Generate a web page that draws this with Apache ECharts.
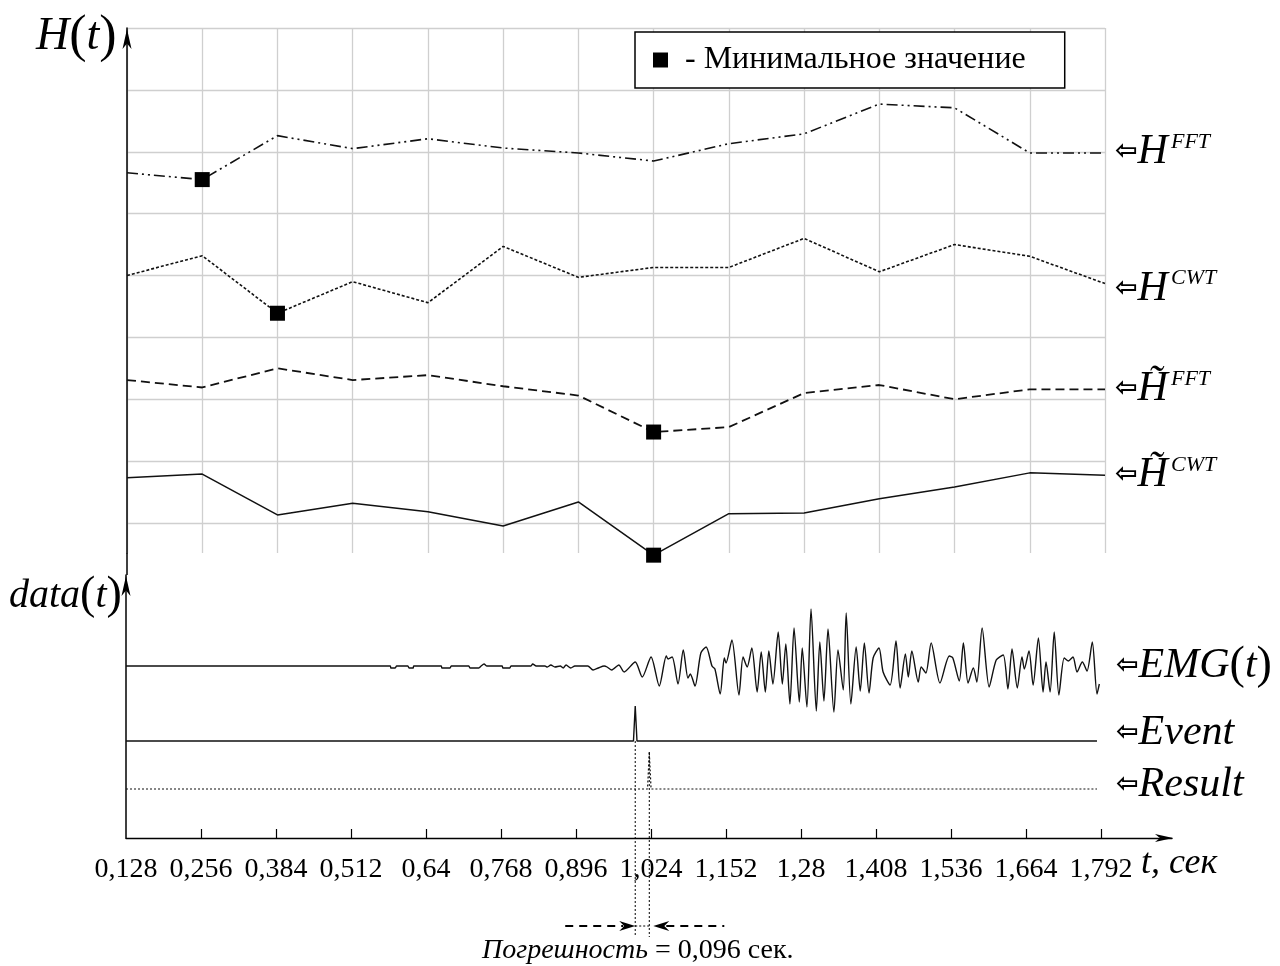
<!DOCTYPE html>
<html><head><meta charset="utf-8">
<script src="https://cdn.jsdelivr.net/npm/echarts@6/dist/echarts.min.js"></script>
<style>html,body{margin:0;padding:0;background:#fff}#c{width:1280px;height:966px}</style>
</head><body><div id="c"></div>
<script>
// ---------- DATA ----------
const T = [0.128,0.256,0.384,0.512,0.64,0.768,0.896,1.024,1.152,1.28,1.408,1.536,1.664,1.792];
const tickLabels = ['0,128','0,256','0,384','0,512','0,64','0,768','0,896','1,024','1,152','1,28','1,408','1,536','1,664','1,792'];
const H_FFT  = [5.66,5.55,6.26,6.05,6.21,6.06,5.98,5.85,6.13,6.29,6.77,6.71,5.98,5.98];
const H_CWT  = [4.00,4.32,3.39,3.90,3.56,4.47,3.97,4.13,4.13,4.60,4.06,4.50,4.31,3.87];
const HT_FFT = [2.31,2.19,2.50,2.31,2.39,2.21,2.06,1.47,1.55,2.10,2.23,2.00,2.16,2.16];
const HT_CWT = [0.73,0.79,0.13,0.32,0.18,-0.05,0.34,-0.52,0.15,0.16,0.39,0.58,0.81,0.77];
const EMG = [
 [0.128,172],[0.579,172],[0.580,170],[0.587,170],[0.590,172],[0.609,172],[0.611,170],[0.618,170],[0.619,172],
 [0.666,172],[0.667,170],[0.681,170],[0.683,172],[0.713,172],[0.715,170],[0.730,170],[0.734,172],[0.739,174],
 [0.744,172],[0.770,172],[0.771,170],[0.783,170],[0.785,172],[0.819,172],[0.822,174],[0.828,172],[0.843,172],
 [0.847,171],[0.853,173],[0.860,171],[0.869,172],[0.874,170],[0.879,173],[0.887,170],[0.894,172],
 [0.903,172],[0.916,172],[0.925,168],[0.934,170],[0.944,172],[0.949,171],[0.957,168],[0.969,173],[0.978,166],
 [0.997,176],[1.009,161],[1.024,181],[1.038,152],[1.050,182],[1.053,179],[1.060,181],[1.070,154],[1.079,188],
 [1.087,160],[1.091,164],[1.099,152],[1.109,185],[1.118,191],[1.128,172],[1.133,169],[1.142,144],[1.149,180],
 [1.152,175],[1.162,198],[1.174,143],[1.181,181],[1.188,171],[1.196,190],[1.205,146],[1.212,186],[1.219,146],
 [1.225,187],[1.232,154],[1.241,206],[1.248,154],[1.254,194],[1.261,134],[1.268,210],[1.277,136],[1.282,190],
 [1.290,131],[1.297,229],[1.306,127],[1.312,196],[1.319,137],[1.326,209],[1.336,126],[1.343,188],[1.352,148],
 [1.357,225],[1.365,134],[1.374,191],[1.381,147],[1.388,195],[1.396,145],[1.403,180],[1.413,190],[1.420,166],
 [1.432,153],[1.442,197],[1.449,150],[1.458,184],[1.463,161],[1.469,187],[1.480,156],[1.485,171],[1.493,165],
 [1.502,195],[1.517,155],[1.533,182],[1.539,180],[1.550,157],[1.557,195],[1.565,155],[1.574,170],[1.580,156],
 [1.589,210],[1.601,151],[1.613,178],[1.625,183],[1.633,149],[1.640,189],[1.649,150],[1.657,181],[1.661,169],
 [1.669,187],[1.676,153],[1.685,200],[1.693,146],[1.698,176],[1.705,146],[1.712,206],[1.720,143],[1.729,180],
 [1.736,177],[1.744,181],[1.751,166],[1.760,176],[1.768,167],[1.777,196],[1.785,144],[1.789,154]
];
const EVENT  = [[0.128,97],[0.994,97],[0.997,132],[1.000,97],[1.785,97]];
const RESULT = [[0.128,49],[1.018,49],[1.021,86],[1.024,49],[1.785,49]];
const EMG_BASE = 172;
const LEGEND_NAME = '- Минимальное значение';
const ERROR_TEXT_I = 'Погрешность';
const ERROR_TEXT_R = ' = 0,096 сек.';

// ---------- CHART ----------
const SERIF = 'Liberation Serif';
const GRID_C = '#cfcfcf';
const ARROW = 'path://M5,0 L10,22 L5,16 L0,22 Z';
const chart = echarts.init(document.getElementById('c'));

function minPoint(arr){ let k=0; arr.forEach((v,i)=>{ if(v<arr[k]) k=i; }); return [T[k], arr[k]]; }
const pairs = arr => T.map((t,i)=>[t, arr[i]]);
const ink = '#111';

const option = {
  animation:false,
  backgroundColor:'#fff',
  grid:[
    {left:127, right:175, top:28, bottom:413},
    {left:127, right:175, top:28, bottom:443},
    {left:126, right:108, top:575, bottom:128}
  ],
  xAxis:[
    {gridIndex:0, type:'value', min:T[0], max:T[T.length-1], interval:0.128,
     axisLine:{show:false}, axisTick:{show:false}, axisLabel:{show:false},
     splitLine:{show:true, lineStyle:{color:GRID_C, width:1.3}}},
    {gridIndex:1, type:'value', min:T[0], max:T[T.length-1], show:false},
    {gridIndex:2, type:'value', min:T[0], max:1.913,
     axisLine:{show:true, onZero:false, symbol:['none', ARROW], symbolSize:[9,18], symbolOffset:[0,-8], lineStyle:{color:'#000', width:1.4}},
     axisTick:{show:true, inside:true, length:9, customValues:T.slice(1), lineStyle:{color:'#000', width:1.2}},
     axisLabel:{show:true, customValues:T, margin:18, fontFamily:SERIF, fontSize:28, color:'#000',
       formatter:v=>{ const i=T.findIndex(t=>Math.abs(t-v)<1e-6); return i>=0?tickLabels[i]:''; }},
     splitLine:{show:false}}
  ],
  yAxis:[
    {gridIndex:0, type:'value', min:-0.485, max:8,
     axisLine:{show:true, onZero:false, symbol:['none', ARROW], symbolSize:[9,24], symbolOffset:[0,-11], lineStyle:{color:'#000', width:1.5}},
     axisTick:{show:false}, axisLabel:{show:false}, splitLine:{show:false}},
    {gridIndex:1, type:'value', min:0, max:8, interval:1,
     axisLine:{show:false}, axisTick:{show:false}, axisLabel:{show:false},
     splitLine:{show:true, lineStyle:{color:GRID_C, width:1.3}}},
    {gridIndex:2, type:'value', min:0, max:263,
     axisLine:{show:true, onZero:false, symbol:['none', ARROW], symbolSize:[9,24], symbolOffset:[0,-11], lineStyle:{color:'#000', width:1.5}},
     axisTick:{show:false}, axisLabel:{show:false}, splitLine:{show:false}}
  ],
  legend:{
    data:[LEGEND_NAME], left:635, top:32, padding:[12,39,12,18],
    itemWidth:15, itemHeight:15, icon:'rect', selectedMode:false,
    borderColor:'#000', borderWidth:1.5, backgroundColor:'#fff', z:10,
    itemStyle:{color:'#000', opacity:1},
    textStyle:{fontFamily:SERIF, fontSize:32, color:'#000', padding:[0,0,0,12]}
  },
  series:[
    {name:'H_FFT', type:'line', xAxisIndex:0, yAxisIndex:0, data:pairs(H_FFT), symbol:'none', silent:true,
     lineStyle:{color:ink, width:1.6, type:[11,4,2,4,2,4]}},
    {name:'H_CWT', type:'line', xAxisIndex:0, yAxisIndex:0, data:pairs(H_CWT), symbol:'none', silent:true,
     lineStyle:{color:ink, width:1.6, type:[3,2]}},
    {name:'HT_FFT', type:'line', xAxisIndex:0, yAxisIndex:0, data:pairs(HT_FFT), symbol:'none', silent:true,
     lineStyle:{color:ink, width:1.8, type:[9,5]}},
    {name:'HT_CWT', type:'line', xAxisIndex:0, yAxisIndex:0, data:pairs(HT_CWT), symbol:'none', silent:true, clip:false,
     lineStyle:{color:ink, width:1.5}},
    {name:LEGEND_NAME, type:'scatter', xAxisIndex:0, yAxisIndex:0, symbol:'rect', symbolSize:15, clip:false, z:5,
     itemStyle:{color:'#000', opacity:1},
     data:[minPoint(H_FFT), minPoint(H_CWT), minPoint(HT_FFT), minPoint(HT_CWT)]},
    {name:'EMG', type:'line', xAxisIndex:2, yAxisIndex:2, data:EMG, symbol:'none', silent:true, smooth:0.25,
     lineStyle:{color:ink, width:1.4}},
    {name:'Event', type:'line', xAxisIndex:2, yAxisIndex:2, data:EVENT, symbol:'none', silent:true,
     lineStyle:{color:ink, width:1.4}},
    {name:'Result', type:'line', xAxisIndex:2, yAxisIndex:2, data:RESULT, symbol:'none', silent:true,
     lineStyle:{color:ink, width:1.2, type:[2,2]}}
  ]
};
chart.setOption(option);

// ---------- ANNOTATIONS (positioned through the chart's own scales) ----------
const p0 = (t,v)=>chart.convertToPixel({xAxisIndex:0, yAxisIndex:0},[t,v]);
const p2 = (t,v)=>chart.convertToPixel({xAxisIndex:2, yAxisIndex:2},[t,v]);
const richBase = {
  a:{fontFamily:'DejaVu Sans', fontWeight:'bold', fontSize:27, fill:'#000'},
  h:{fontFamily:SERIF, fontStyle:'italic', fontSize:42, fill:'#000'},
  p:{fontFamily:SERIF, fontSize:46, fill:'#000'},
  s:{fontFamily:SERIF, fontStyle:'italic', fontSize:22, fill:'#000', verticalAlign:'top', padding:[0,0,0,3]},
  i:{fontFamily:SERIF, fontStyle:'italic', fontSize:28, fill:'#000'},
  r:{fontFamily:SERIF, fontSize:28, fill:'#000'},
  H:{fontFamily:SERIF, fontStyle:'italic', fontSize:46, fill:'#000'},
  P:{fontFamily:SERIF, fontSize:52, fill:'#000'},
  d:{fontFamily:SERIF, fontStyle:'italic', fontSize:40, fill:'#000'},
  dp:{fontFamily:SERIF, fontSize:46, fill:'#000'},
  t:{fontFamily:SERIF, fontStyle:'italic', fontSize:36, fill:'#000'}
};
function txt(x, y, text, align){
  return {type:'text', x:x, y:y, z:20, silent:true,
    style:{text:text, rich:richBase, fill:'#000', align:align||'left', verticalAlign:'middle',
           textAlign:align||'left', textVerticalAlign:'middle'}};
}
const g = [];
const LX = 1115;
const lastUp = (arr)=>p0(T[T.length-1], arr[arr.length-1]);
g.push(txt(LX, lastUp(H_FFT)[1]-1, '{a|⇦}{h|H}{s|FFT}'));
g.push(txt(LX, lastUp(H_CWT)[1]+5, '{a|⇦}{h|H}{s|CWT}'));
g.push(txt(LX, lastUp(HT_FFT)[1], '{a|⇦}{h|H\u0303}{s|FFT}'));
g.push(txt(LX, lastUp(HT_CWT)[1], '{a|⇦}{h|H\u0303}{s|CWT}'));
g.push(txt(LX+1, p2(T[0], EMG_BASE)[1], '{a|⇦}{h|EMG}{p|(}{h|t}{p|)}'));
g.push(txt(LX+1, p2(T[0], EVENT[0][1])[1]-8, '{a|⇦}{h|Event}'));
g.push(txt(LX+1, p2(T[0], RESULT[0][1])[1]-4, '{a|⇦}{h|Result}'));
// axis titles
g.push(txt(36, 37, '{H|H}{P|(}{H|t}{P|)}'));
g.push(txt(9, 596, '{d|data}{dp|(}{d|t}{dp|)}'));
g.push(txt(1141, 864, '{t|t, сек}'));
// continuation of the vertical axis between the two panels
const upBottom = p0(T[0], -0.485), lowTop = p2(T[0], 263);
g.push({type:'line', z:20, silent:true, shape:{x1:upBottom[0], y1:upBottom[1], x2:upBottom[0], y2:lowTop[1]}, style:{stroke:'#000', lineWidth:1.5}});
// error annotation
const evPeak = EVENT.reduce((a,b)=>b[1]>a[1]?b:a);
const rsPeak = RESULT.reduce((a,b)=>b[1]>a[1]?b:a);
const ex = p2(evPeak[0], EVENT[0][1]);
const rx = p2(rsPeak[0], rsPeak[1]);
const yBottom = 937, yArr = 926;
const dotted = {stroke:'#000', lineWidth:1, lineDash:[2,2]};
g.push({type:'line', z:20, silent:true, shape:{x1:ex[0], y1:ex[1], x2:ex[0], y2:yBottom}, style:dotted});
g.push({type:'line', z:20, silent:true, shape:{x1:rx[0], y1:rx[1], x2:rx[0], y2:yBottom}, style:dotted});
g.push({type:'line', z:20, silent:true, shape:{x1:ex[0], y1:yArr, x2:rx[0], y2:yArr}, style:dotted});
const dashed = {stroke:'#000', lineWidth:2.2, lineDash:[8,6]};
g.push({type:'line', z:20, silent:true, shape:{x1:ex[0]-70, y1:yArr, x2:ex[0]-12, y2:yArr}, style:dashed});
g.push({type:'polygon', z:20, silent:true, shape:{points:[[ex[0],yArr],[ex[0]-16,yArr-5],[ex[0]-11,yArr],[ex[0]-16,yArr+5]]}, style:{fill:'#000'}});
g.push({type:'line', z:20, silent:true, shape:{x1:rx[0]+17, y1:yArr, x2:rx[0]+75, y2:yArr}, style:dashed});
g.push({type:'polygon', z:20, silent:true, shape:{points:[[rx[0]+4,yArr],[rx[0]+20,yArr-5],[rx[0]+15,yArr],[rx[0]+20,yArr+5]]}, style:{fill:'#000'}});
g.push(txt(482, 951, '{i|'+ERROR_TEXT_I+'}{r|'+ERROR_TEXT_R+'}'));
chart.setOption({graphic:g});
</script>
</body></html>
